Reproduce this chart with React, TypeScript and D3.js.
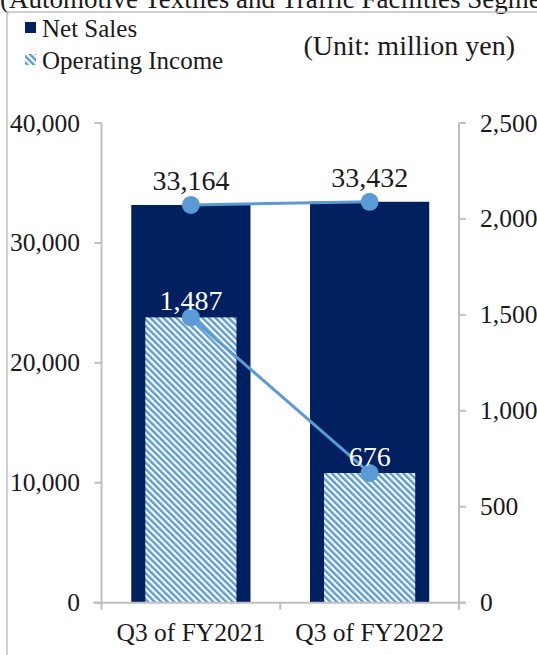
import React from "react";
import * as d3 from "d3";

const categories = ["Q3 of FY2021", "Q3 of FY2022"];
const netSales = [33164, 33432];
const operatingIncome = [1487, 676];
const leftTicks = [0, 10000, 20000, 30000, 40000];
const rightTicks = [0, 500, 1000, 1500, 2000, 2500];
const titleText = "(Automotive Textiles and Traffic Facilities Segment)";
const unitText = "(Unit: million yen)";
const legendLabels = ["Net Sales", "Operating Income"];

const W = 537;
const H = 655;
const NAVY = "#002060";
const LIGHT = "#5B9BD5";
const AXIS = "#BFBFBF";
const TEXT = "#1a1a1a";
const FONT = "'Liberation Serif', 'Times New Roman', serif";

export default function App() {
  const x0 = 101.5, x1 = 459, yTop = 123, yBot = 602.7;
  const x = d3.scaleBand<string>().domain(categories).range([x0, x1]).padding(0);
  const yL = d3.scaleLinear().domain([0, 40000]).range([yBot, yTop]);
  const yR = d3.scaleLinear().domain([0, 2500]).range([yBot, yTop]);
  const fmt = d3.format(",");
  const bw = x.bandwidth();
  const salesW = bw * 0.667;
  const oiW = bw * 0.51;
  const cx = (c: string) => (x(c) as number) + bw / 2;

  const salesLine = d3
    .line<number>()
    .x((_, i) => cx(categories[i]))
    .y((d) => yL(d));
  const oiLine = d3
    .line<number>()
    .x((_, i) => cx(categories[i]))
    .y((d) => yR(d));

  return (
    <svg
      width={W}
      height={H}
      style={{ position: "absolute", left: 0, top: 0, background: "#fff" }}
      fontFamily={FONT}
    >
      <defs>
        <pattern id="hatch" patternUnits="userSpaceOnUse" width="4.6" height="4.6" patternTransform="rotate(-45)">
          <rect width="4.6" height="4.6" fill="#fff" />
          <rect x="0" y="0" width="2.4" height="4.6" fill={LIGHT} />
        </pattern>
      </defs>
      <rect width={W} height={H} fill="#fff" />
      {/* title (cut off at top) */}
      <text x={0} y={8} fontSize={27} fill={TEXT}>{titleText}</text>
      {/* frame */}
      <line x1={7} y1={12} x2={W} y2={12} stroke={AXIS} strokeWidth={1.5} />
      <line x1={7} y1={12} x2={7} y2={H} stroke={AXIS} strokeWidth={1.5} />

      {/* legend */}
      <rect x={25} y={22} width={11} height={11} fill={NAVY} />
      <text x={42} y={37} fontSize={25} fill={TEXT}>{legendLabels[0]}</text>
      <rect x={25} y={54} width={11} height={11} fill="url(#hatch)" />
      <text x={42} y={69} fontSize={25} fill={TEXT}>{legendLabels[1]}</text>
      <text x={515} y={55} fontSize={28} fill={TEXT} textAnchor="end">{unitText}</text>

      {/* bars */}
      {categories.map((c, i) => (
        <rect key={"s" + c} x={cx(c) - salesW / 2} y={yL(netSales[i])} width={salesW} height={yBot - yL(netSales[i])} fill={NAVY} />
      ))}
      {categories.map((c, i) => (
        <rect key={"o" + c} x={cx(c) - oiW / 2} y={yR(operatingIncome[i])} width={oiW} height={yBot - yR(operatingIncome[i])} fill="url(#hatch)" />
      ))}

      {/* axes */}
      <line x1={x0} y1={yTop} x2={x0} y2={yBot + 7} stroke={AXIS} strokeWidth={2} />
      <line x1={x1} y1={yTop} x2={x1} y2={yBot + 7} stroke={AXIS} strokeWidth={2} />
      <line x1={x0 - 8} y1={yBot} x2={x1 + 7} y2={yBot} stroke={AXIS} strokeWidth={2} />
      <line x1={x0 + bw} y1={yBot} x2={x0 + bw} y2={yBot + 7} stroke={AXIS} strokeWidth={2} />
      {leftTicks.map((t) => (
        <g key={"l" + t}>
          <line x1={x0 - 7} y1={yL(t)} x2={x0} y2={yL(t)} stroke={AXIS} strokeWidth={2} />
          <text x={80} y={yL(t) + 8.5} fontSize={25.5} textAnchor="end" fill={TEXT}>{fmt(t)}</text>
        </g>
      ))}
      {rightTicks.map((t) => (
        <g key={"r" + t}>
          <line x1={x1} y1={yR(t)} x2={x1 + 7} y2={yR(t)} stroke={AXIS} strokeWidth={2} />
          <text x={480} y={yR(t) + 8.5} fontSize={25.5} textAnchor="start" fill={TEXT}>{fmt(t)}</text>
        </g>
      ))}
      {categories.map((c) => (
        <text key={"c" + c} x={cx(c)} y={641} fontSize={25.5} textAnchor="middle" fill={TEXT}>{c}</text>
      ))}

      {/* lines */}
      <path d={salesLine(netSales) as string} fill="none" stroke={LIGHT} strokeWidth={3} />
      <path d={oiLine(operatingIncome) as string} fill="none" stroke={LIGHT} strokeWidth={3} />
      {categories.map((c, i) => (
        <circle key={"sd" + c} cx={cx(c)} cy={yL(netSales[i])} r={9} fill={LIGHT} />
      ))}
      {categories.map((c, i) => (
        <circle key={"od" + c} cx={cx(c)} cy={yR(operatingIncome[i])} r={9} fill={LIGHT} />
      ))}

      {/* data labels */}
      {categories.map((c, i) => (
        <text key={"sl" + c} x={cx(c)} y={yL(netSales[i]) - 15} fontSize={28} textAnchor="middle" fill={TEXT}>{fmt(netSales[i])}</text>
      ))}
      {categories.map((c, i) => (
        <text key={"ol" + c} x={cx(c)} y={yR(operatingIncome[i]) - 7} fontSize={28} textAnchor="middle" fill="#fff">{fmt(operatingIncome[i])}</text>
      ))}
    </svg>
  );
}
